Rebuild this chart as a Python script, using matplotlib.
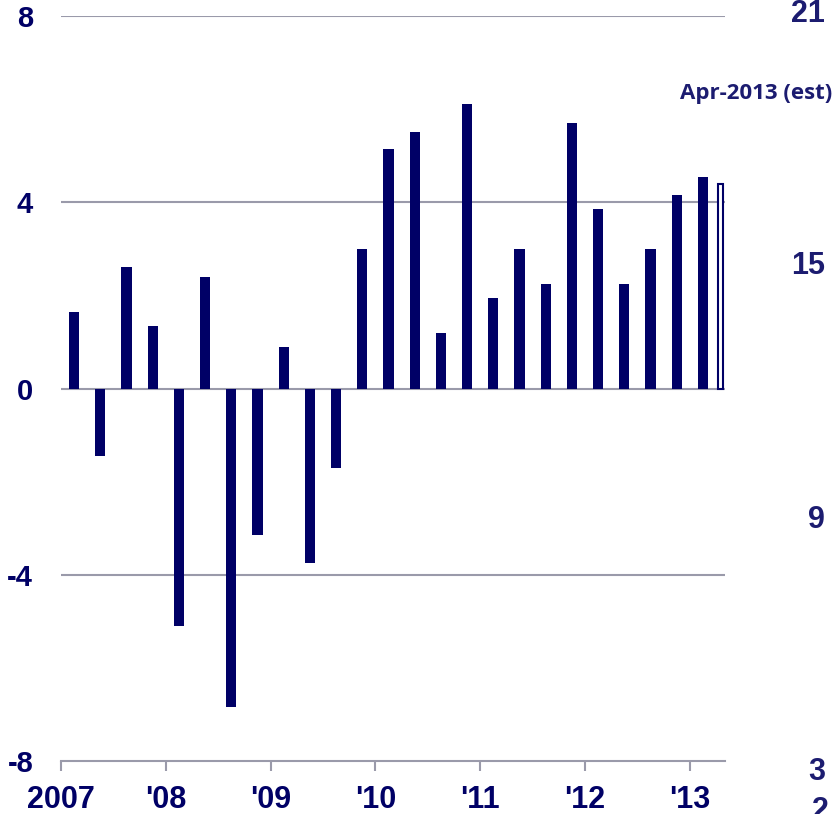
import matplotlib
matplotlib.use("Agg")
import matplotlib.pyplot as plt

# Data: quarterly values 2007Q1 .. 2013Q1, plus April 2013 estimate
values = [1.65, -1.45, 2.6, 1.35, -5.1, 2.4, -6.85, -3.15, 0.9, -3.75, -1.7,
          3.0, 5.15, 5.5, 1.2, 6.1, 1.95, 3.0, 2.25, 5.7, 3.85, 2.25, 3.0,
          4.15, 4.55]
est_value = 4.4
est_label = "Apr-2013 (est)"
year_ticks = [2007, 2008, 2009, 2010, 2011, 2012, 2013]
year_labels = ["2007", "'08", "'09", "'10", "'11", "'12", "'13"]
left_ticks = [-8, -4, 0, 4, 8]
right_ticks = [3, 9, 15, 21]

navy = "#000066"
label_col = "#1c1c70"
grid_col = "#9a9aaa"

W, H = 835, 814
fig = plt.figure(figsize=(W/100, H/100), dpi=100)
ax = fig.add_axes([61/W, 1-761/H, (725-61)/W, (761-16)/H])

x = [2007.125 + 0.25*i for i in range(len(values))]
ax.bar(x, values, width=0.098, color=navy, zorder=3)
ax.bar([2013.293], [est_value], width=0.055, facecolor="white", edgecolor=navy,
       linewidth=1.5, zorder=3)

ax.set_xlim(2007, 2007 + (725-61)/104.8)
ax.set_ylim(-8, 8)
for y in [-4, 0, 4, 8]:
    ax.axhline(y, color=grid_col, lw=1.5, zorder=1)

for s in ["top", "right", "left"]:
    ax.spines[s].set_visible(False)
ax.spines["bottom"].set_color(grid_col)
ax.spines["bottom"].set_linewidth(1.5)

ax.set_xticks(year_ticks)
ax.set_xticklabels(year_labels, fontsize=22, fontweight="bold", color=navy,
                   family="Liberation Sans")
ax.tick_params(axis="x", length=7, width=1.5, color=grid_col, pad=10.5)

ax.set_yticks(left_ticks)
ax.set_yticklabels([str(t) for t in left_ticks], fontsize=21, fontweight="bold",
                   color=navy, family="Liberation Sans")
ax.tick_params(axis="y", length=0, pad=20)

# Right-hand scale (offset slightly from the left scale)
ax2 = fig.add_axes([61/W, 1-769/H, (725-61)/W, (769-10)/H])
ax2.patch.set_visible(False)
for s in ax2.spines.values():
    s.set_visible(False)
ax2.set_xticks([])
ax2.set_ylim(3, 21)
ax2.yaxis.tick_right()
ax2.set_yticks(right_ticks)
ax2.set_yticklabels([str(t) for t in right_ticks], fontsize=22,
                    fontweight="bold", color=label_col, family="Liberation Sans",
                    ha="right")
ax2.tick_params(axis="y", length=0, pad=72)

fig.text(756/W, 1-93/H, est_label, ha="center", va="center", fontsize=16,
         fontweight="bold", color=label_col, family="Open Sans")
fig.text(812/W, 1-796/H, "2", ha="left", va="top", fontsize=22,
         fontweight="bold", color=label_col, family="Liberation Sans")

fig.savefig("out.png", dpi=100)
